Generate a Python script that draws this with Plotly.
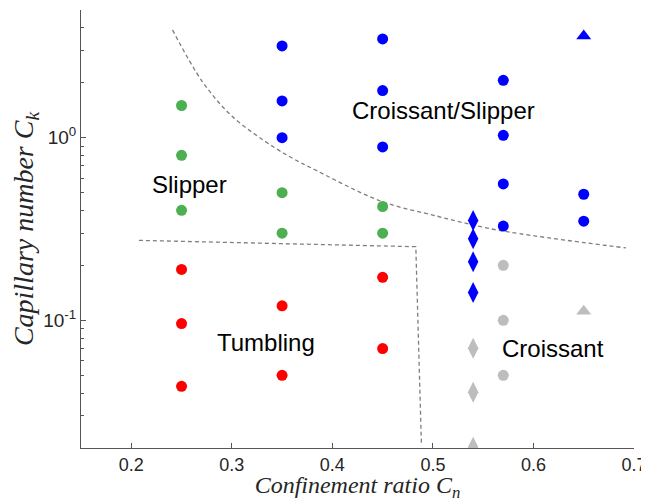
import math
import plotly.graph_objects as go

# --- data ---------------------------------------------------------------
green_x = [0.25, 0.25, 0.25, 0.35, 0.35, 0.45, 0.45]
green_y = [1.5, 0.80, 0.40, 0.50, 0.30, 0.42, 0.30]

red_x = [0.25, 0.25, 0.25, 0.35, 0.35, 0.45, 0.45]
red_y = [0.19, 0.096, 0.0435, 0.12, 0.050, 0.172, 0.070]

blue_x = [0.35, 0.35, 0.35, 0.45, 0.45, 0.45, 0.57, 0.57, 0.57, 0.57, 0.65, 0.65]
blue_y = [3.18, 1.59, 1.0, 3.47, 1.81, 0.89, 2.06, 1.03, 0.558, 0.328, 0.49, 0.349]

blue_dia_x = [0.54, 0.54, 0.54, 0.54]
blue_dia_y = [0.352, 0.28, 0.209, 0.142]

gray_dia_x = [0.54, 0.54, 0.54]
gray_dia_y = [0.0703, 0.0404, 0.0202]

gray_x = [0.57, 0.57, 0.57]
gray_y = [0.20, 0.10, 0.050]

blue_tri_x = [0.65]
blue_tri_y = [3.6]
gray_tri_x = [0.65]
gray_tri_y = [0.112]

# boundary curves
curve_x = [0.241, 0.2707, 0.3003, 0.343, 0.366, 0.379, 0.4484, 0.504, 0.524, 0.567, 0.692]
curve_y = [3.89, 2.03, 1.31, 0.879, 0.742, 0.683, 0.449, 0.372, 0.349, 0.310, 0.249]

bound_x = [0.2076, 0.483, 0.4886]
bound_y = [0.274, 0.253, 0.0206]

x_ticks = [0.2, 0.3, 0.4, 0.5, 0.6, 0.7]
x_ticktext = ["0.2", "0.3", "0.4", "0.5", "0.6", "0.7"]
y_ticks = [0.1, 1]
y_ticktext = ["10<sup>-1</sup>", "10<sup>0</sup>"]
y_minor = [0.02, 0.03, 0.04, 0.05, 0.06, 0.07, 0.08, 0.09,
           0.2, 0.3, 0.4, 0.5, 0.6, 0.7, 0.8, 0.9, 2, 3, 4, 5]

labels = ["Slipper", "Croissant/Slipper", "Tumbling", "Croissant"]
label_x = [0.2576, 0.511, 0.3336, 0.619]
label_y = [0.554, 1.40, 0.0758, 0.0703]

# --- colours ------------------------------------------------------------
BLUE = "#0000FF"
GREEN = "#4CAF50"
RED = "#FF0000"
GRAY = "#BDBDBD"
LINE = "#7F7F7F"

fig = go.Figure()

dash = "4px,3px"
fig.add_trace(go.Scatter(x=curve_x, y=curve_y, mode="lines",
                         line=dict(color=LINE, width=1.3, dash=dash, shape="spline"),
                         hoverinfo="skip"))
fig.add_trace(go.Scatter(x=bound_x, y=bound_y, mode="lines",
                         line=dict(color=LINE, width=1.3, dash=dash),
                         hoverinfo="skip"))


def pts(x, y, color, symbol, size):
    fig.add_trace(go.Scatter(x=x, y=y, mode="markers",
                             marker=dict(color=color, symbol=symbol, size=size,
                                         line=dict(width=0))))


pts(green_x, green_y, GREEN, "circle", 11)
pts(red_x, red_y, RED, "circle", 11)
pts(blue_x, blue_y, BLUE, "circle", 11)
pts(blue_dia_x, blue_dia_y, BLUE, "diamond-tall", 15)
pts(gray_dia_x, gray_dia_y, GRAY, "diamond-tall", 15)
pts(gray_x, gray_y, GRAY, "circle", 11)
pts(blue_tri_x, blue_tri_y, BLUE, "triangle-up", 13)
pts(gray_tri_x, gray_tri_y, GRAY, "triangle-up", 13)

for t, xx, yy in zip(labels, label_x, label_y):
    fig.add_annotation(x=xx, y=math.log10(yy), xref="x", yref="y", text=t,
                       showarrow=False,
                       font=dict(family="Liberation Sans, Arial", size=24, color="#000"),
                       xanchor="center", yanchor="middle")

# page body has an 8px margin: figure sits at (8, 8)
fig.update_layout(
    width=641, height=494,
    margin=dict(l=73, r=11, t=2, b=54),
    paper_bgcolor="white", plot_bgcolor="white",
    showlegend=False,
    xaxis=dict(range=[0.15, 0.7], tickvals=x_ticks, ticktext=x_ticktext,
               ticks="inside", ticklen=5, tickcolor="#555", tickwidth=1,
               ticklabeloverflow="allow",
               showline=True, linecolor="#555", linewidth=1, mirror=False,
               showgrid=False, zeroline=False,
               tickfont=dict(family="Liberation Sans, Arial", size=18, color="#262626"),
               title=dict(text="<i>Confinement ratio C<sub>n</sub></i>",
                          font=dict(family="Liberation Serif, serif", size=24, color="#262626"),
                          standoff=9)),
    yaxis=dict(type="log", range=[math.log10(0.02), math.log10(5)],
               tickvals=y_ticks, ticktext=y_ticktext,
               ticks="inside", ticklen=5, tickcolor="#555", tickwidth=1,
               minor=dict(tickvals=y_minor, ticks="inside", ticklen=3,
                          tickcolor="#555", showgrid=False),
               showline=True, linecolor="#555", linewidth=1, mirror=False,
               showgrid=False, zeroline=False,
               tickfont=dict(family="Liberation Sans, Arial", size=19, color="#262626"),
               title=dict(text="<i>Capillary number C<sub>k</sub></i>",
                          font=dict(family="Liberation Serif, serif", size=28, color="#262626"),
                          standoff=4)),
)

fig.write_html("out.html")
